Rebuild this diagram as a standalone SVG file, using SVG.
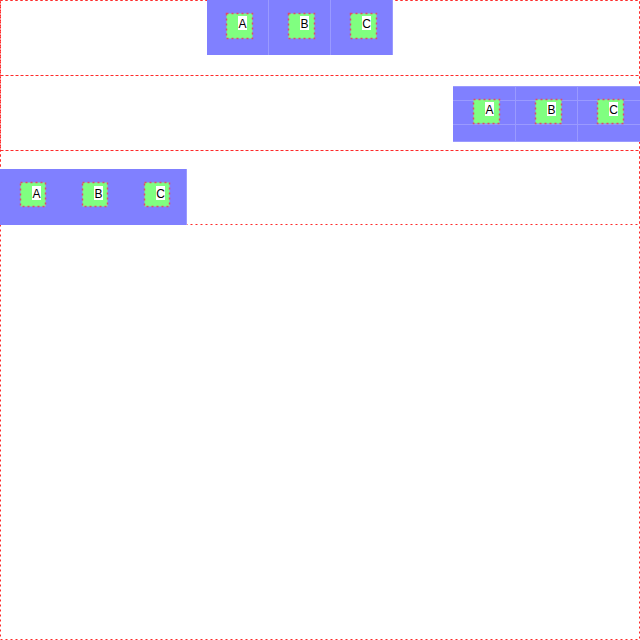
<svg xmlns="http://www.w3.org/2000/svg" width="640" height="640" viewBox="0 0 640 640">
<style>
.row{fill:none;stroke:#ff2a2a;stroke-width:1;stroke-dasharray:2 3}
.blue{fill:#8080ff}
.grid{stroke:#9a9aff;stroke-width:1;fill:none}
.item{fill:#80ff80;stroke:#e04a6a;stroke-width:1.5;stroke-dasharray:2 3}
.lbg{fill:#ffffff}
.lbl{font-family:"Liberation Sans",Arial,sans-serif;font-size:12px;fill:#000000;text-anchor:middle}
</style>
<rect width="640" height="640" fill="#ffffff"/>
<g id="outer"><rect class="row" x="0.5" y="0.5" width="639" height="639"/></g>
<g id="row1">
<rect class="row" x="0.5" y="0.5" width="639" height="75"/>
<rect class="blue" x="207" y="0" width="186" height="55"/>
<line class="grid" x1="268.5" y1="0" x2="268.5" y2="55"/>
<line class="grid" x1="330.5" y1="0" x2="330.5" y2="55"/>
<line class="grid" x1="392.5" y1="0" x2="392.5" y2="55"/>
<g id="r1a"><rect class="item" x="226.5" y="13.5" width="26" height="25"/><rect class="lbg" x="238" y="16" width="9" height="14"/><text class="lbl" x="242.5" y="27.5">A</text></g>
<g id="r1b"><rect class="item" x="288.5" y="13.5" width="26" height="25"/><rect class="lbg" x="300" y="16" width="9" height="14"/><text class="lbl" x="304.5" y="27.5">B</text></g>
<g id="r1c"><rect class="item" x="350.5" y="13.5" width="26" height="25"/><rect class="lbg" x="362" y="16" width="9" height="14"/><text class="lbl" x="366.5" y="27.5">C</text></g>
</g>
<g id="row2">
<rect class="row" x="0.5" y="75.5" width="639" height="75"/>
<rect class="blue" x="453" y="86" width="187" height="56"/>
<line class="grid" x1="453" y1="86.5" x2="640" y2="86.5"/>
<line class="grid" x1="453" y1="100.5" x2="640" y2="100.5"/>
<line class="grid" x1="453" y1="124.5" x2="640" y2="124.5"/>
<line class="grid" x1="453" y1="141.5" x2="640" y2="141.5"/>
<line class="grid" x1="515.5" y1="86" x2="515.5" y2="142"/>
<line class="grid" x1="577.5" y1="86" x2="577.5" y2="142"/>
<g id="r2a"><rect class="item" x="473.5" y="99.5" width="26" height="24"/><rect class="lbg" x="485" y="102" width="9" height="14"/><text class="lbl" x="489.5" y="113.5">A</text></g>
<g id="r2b"><rect class="item" x="535.5" y="99.5" width="26" height="24"/><rect class="lbg" x="547" y="102" width="9" height="14"/><text class="lbl" x="551.5" y="113.5">B</text></g>
<g id="r2c"><rect class="item" x="597.5" y="99.5" width="26" height="24"/><rect class="lbg" x="609" y="102" width="9" height="14"/><text class="lbl" x="613.5" y="113.5">C</text></g>
</g>
<g id="row3">
<rect class="row" x="0.5" y="150.5" width="639" height="74"/>
<rect class="blue" x="0" y="169" width="187" height="56"/>
<line class="grid" x1="186.5" y1="169" x2="186.5" y2="225"/>
<g id="r3a"><rect class="item" x="20.5" y="182.5" width="25" height="24"/><rect class="lbg" x="32" y="186" width="9" height="14"/><text class="lbl" x="36.5" y="197.5">A</text></g>
<g id="r3b"><rect class="item" x="82.5" y="182.5" width="25" height="24"/><rect class="lbg" x="94" y="186" width="9" height="14"/><text class="lbl" x="98.5" y="197.5">B</text></g>
<g id="r3c"><rect class="item" x="144.5" y="182.5" width="25" height="24"/><rect class="lbg" x="156" y="186" width="9" height="14"/><text class="lbl" x="160.5" y="197.5">C</text></g>
</g>
<g id="connectors"></g>
</svg>
